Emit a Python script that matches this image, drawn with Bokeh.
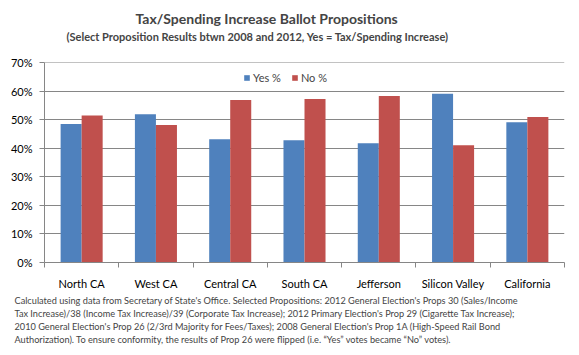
import numpy as np
from bokeh.plotting import figure
from bokeh.models import (ColumnDataSource, FixedTicker, NumeralTickFormatter,
                          Range1d, Title)
from bokeh.transform import dodge
from bokeh.embed import file_html
from bokeh.resources import INLINE

categories = ["North CA", "West CA", "Central CA", "South CA", "Jefferson",
              "Silicon Valley", "California"]
yes_pct = [0.485, 0.519, 0.431, 0.428, 0.417, 0.591, 0.491]
no_pct = [0.515, 0.481, 0.569, 0.572, 0.583, 0.410, 0.509]
y_ticks = [0.0, 0.1, 0.2, 0.3, 0.4, 0.5, 0.6, 0.7]

title = "Tax/Spending Increase Ballot Propositions"
subtitle = "(Select Proposition  Results btwn 2008 and  2012, Yes = Tax/Spending  Increase)"
footnote = [
    "Calculated using data from Secretary of State's Office.  Selected Propositions: 2012 General Election's Props 30  (Sales/Income",
    "Tax Increase)/38 (Income Tax Increase)/39 (Corporate Tax Increase); 2012 Primary Election's Prop 29  (Cigarette Tax Increase);",
    "2010 General Election's Prop 26 (2/3rd Majority for Fees/Taxes); 2008 General Election's Prop 1A (High-Speed Rail Bond",
    "Authorization).  To ensure conformity, the results of Prop 26 were flipped (i.e. \u201cYes\u201d votes became \u201cNo\u201d votes).",
]

FONT = "Lato"
AXIS_COLOR = "#868686"
BLUE = "#4F81BD"
RED = "#C0504D"

n = len(categories)
centers = np.arange(n) + 0.5
source = ColumnDataSource(dict(x=centers, yes=yes_pct, no=no_pct, cat=categories))

p = figure(width=579, height=355, output_backend="svg", toolbar_location=None,
           x_range=Range1d(0, n), y_range=Range1d(0, 0.7001),
           min_border_left=44, min_border_right=15, min_border_top=62,
           min_border_bottom=93, title=None)
p.outline_line_color = None
p.background_fill_color = "white"
p.border_fill_color = "white"

bw = 0.283
p.vbar(x=dodge("x", -bw / 2, range=p.x_range), top="yes", width=bw, bottom=0,
       source=source, fill_color=BLUE, line_color=None, legend_label="Yes %")
p.vbar(x=dodge("x", bw / 2, range=p.x_range), top="no", width=bw, bottom=0,
       source=source, fill_color=RED, line_color=None, legend_label="No %")

# x axis: labels at centers, tick marks at boundaries
xa = p.xaxis[0]
xa.ticker = FixedTicker(ticks=list(centers), minor_ticks=list(range(n + 1)))
xa.major_label_overrides = {float(c): cat for c, cat in zip(centers, categories)}
xa.major_tick_out = 0
xa.major_tick_in = 0
xa.minor_tick_out = 5
xa.minor_tick_in = 0
xa.minor_tick_line_color = AXIS_COLOR
xa.axis_line_color = AXIS_COLOR
xa.major_label_text_font = FONT
xa.major_label_text_font_size = "11px"
xa.major_label_text_color = "#000000"
xa.major_label_standoff = 9

ya = p.yaxis[0]
ya.ticker = FixedTicker(ticks=y_ticks)
ya.formatter = NumeralTickFormatter(format="0%")
ya.major_tick_out = 5
ya.major_tick_in = 0
ya.minor_tick_out = 0
ya.minor_tick_in = 0
ya.major_tick_line_color = AXIS_COLOR
ya.axis_line_color = AXIS_COLOR
ya.major_label_text_font = FONT
ya.major_label_text_font_size = "11px"
ya.major_label_text_color = "#000000"
ya.major_label_standoff = 7

p.xgrid.grid_line_color = None
p.ygrid.ticker = FixedTicker(ticks=y_ticks)
p.ygrid.grid_line_color = AXIS_COLOR
p.ygrid.grid_line_width = 1

lg = p.legend[0]
lg.orientation = "horizontal"
lg.location = (199, 178)
lg.background_fill_alpha = 0
lg.border_line_alpha = 0
lg.glyph_width = 7
lg.glyph_height = 7
lg.label_height = 14
lg.label_standoff = 3
lg.spacing = 10
lg.padding = 0
lg.margin = 0
lg.label_text_font = FONT
lg.label_text_font_size = "11px"

# titles above (first added sits closest to the frame); a blank spacer title
# keeps the subtitle clear of the plot area
p.add_layout(Title(text=" ", text_font=FONT, text_font_size="1px",
                   standoff=16), "above")
p.add_layout(Title(text=subtitle, text_font=FONT, text_font_size="11px",
                   text_font_style="bold", align="left", offset=22,
                   vertical_align="middle", standoff=0), "above")
p.add_layout(Title(text=title, text_font=FONT, text_font_size="14px",
                   text_font_style="bold", align="left", offset=91,
                   vertical_align="middle", standoff=1), "above")

# footnote below the axis
for i, line in enumerate(footnote):
    p.add_layout(Title(text=line, text_font=FONT, text_font_size="9.2px",
                       text_font_style="normal", align="left", offset=-30,
                       standoff=0), "below")

open("out.html", "w").write(file_html(p, INLINE))
